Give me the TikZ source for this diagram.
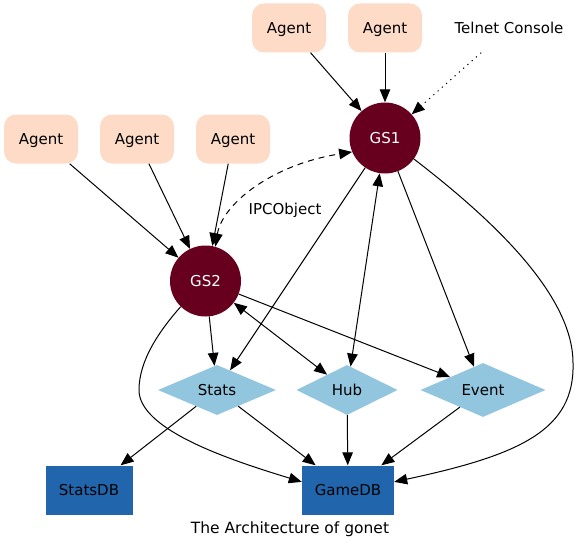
\documentclass[tikz,border=0pt]{standalone}
\usepackage{fontspec}
\setmainfont{DejaVu Sans}
\usetikzlibrary{arrows.meta,shapes.geometric}
\definecolor{agentc}{HTML}{FDDBC7}
\definecolor{gsc}{HTML}{67001F}
\definecolor{diac}{HTML}{92C5DE}
\definecolor{dbc}{HTML}{2166AC}
\begin{document}
\begin{tikzpicture}[x=1pt,y=-1pt,
  every node/.style={font=\fontsize{15}{17}\selectfont, inner sep=0pt, text height=10.94pt, text depth=0pt},
  agent/.style={rectangle, rounded corners=12pt, fill=agentc, minimum width=74pt, minimum height=49pt},
  gs/.style={circle, fill=gsc, text=white, minimum size=71pt},
  dia/.style={diamond, fill=diac, minimum height=50pt},
  db/.style={rectangle, fill=dbc, minimum height=49pt},
  edge/.style={line width=1pt, -{Triangle[length=13pt,width=10.5pt]}},
  both/.style={line width=1pt, {Triangle[length=13pt,width=10.5pt]}-{Triangle[length=13pt,width=10.5pt]}},
  dotline/.style={dash pattern=on 1.2pt off 4.5pt},
  dashline/.style={dash pattern=on 6pt off 5pt},
]
\useasboundingbox (0,0) rectangle (581,551);
\node[agent] (a1) at (289,28) {Agent};
\node[agent] (a2) at (385,28) {Agent};
\node[minimum width=125pt, minimum height=49pt] (tel) at (509,28) {Telnet Console};
\node[gs] (gs1) at (385,138) {GS1};
\node[agent] (a3) at (41,139) {Agent};
\node[agent] (a4) at (137,139) {Agent};
\node[agent] (a5) at (233,139) {Agent};
\node[gs] (gs2) at (205.5,281) {GS2};
\node (ipc) at (285,209) {IPCObject};
\node[dia, minimum width=118pt] (stats) at (217,390) {Stats};
\node[dia, minimum width=101pt] (hub) at (347,390) {Hub};
\node[dia, minimum width=125pt] (event) at (483,390) {Event};
\node[db, minimum width=87pt] (statsdb) at (89,490) {StatsDB};
\node[db, minimum width=92pt] (gamedb) at (348,490) {GameDB};
\node[font=\fontsize{15.5}{17}\selectfont, text height=11.3pt] (cap) at (290,527.5) {The Architecture of gonet};

\draw[edge] (a1) -- (gs1);
\draw[edge] (a2) -- (gs1);
\draw[edge, dotline] (tel) -- (gs1);
\draw[edge] (a3) -- (gs2);
\draw[edge] (a4) -- (gs2);
\draw[edge] (a5) -- (gs2);
\draw[both, dashline] (gs2.74) .. controls (222,205) and (270,165) .. (gs1.203);
\draw[edge] (gs1) -- (stats);
\draw[edge] (gs2) -- (stats);
\draw[both] (gs2) -- (hub);
\draw[both] (gs1) -- (hub);
\draw[edge] (gs1) -- (event);
\draw[edge] (gs2) -- (event);
\draw[edge] (gs1.-36) .. controls (480,210) and (573,290) .. (573,363) .. controls (575,430) and (520,455) .. (gamedb.10);
\draw[edge] (gs2.226) .. controls (160,330) and (139,360) .. (139,390) .. controls (139,430) and (230,460) .. (gamedb.170);
\draw[edge] (stats) -- (statsdb);
\draw[edge] (stats) -- (gamedb);
\draw[edge] (hub) -- (gamedb);
\draw[edge] (event) -- (gamedb);
\end{tikzpicture}
\end{document}
